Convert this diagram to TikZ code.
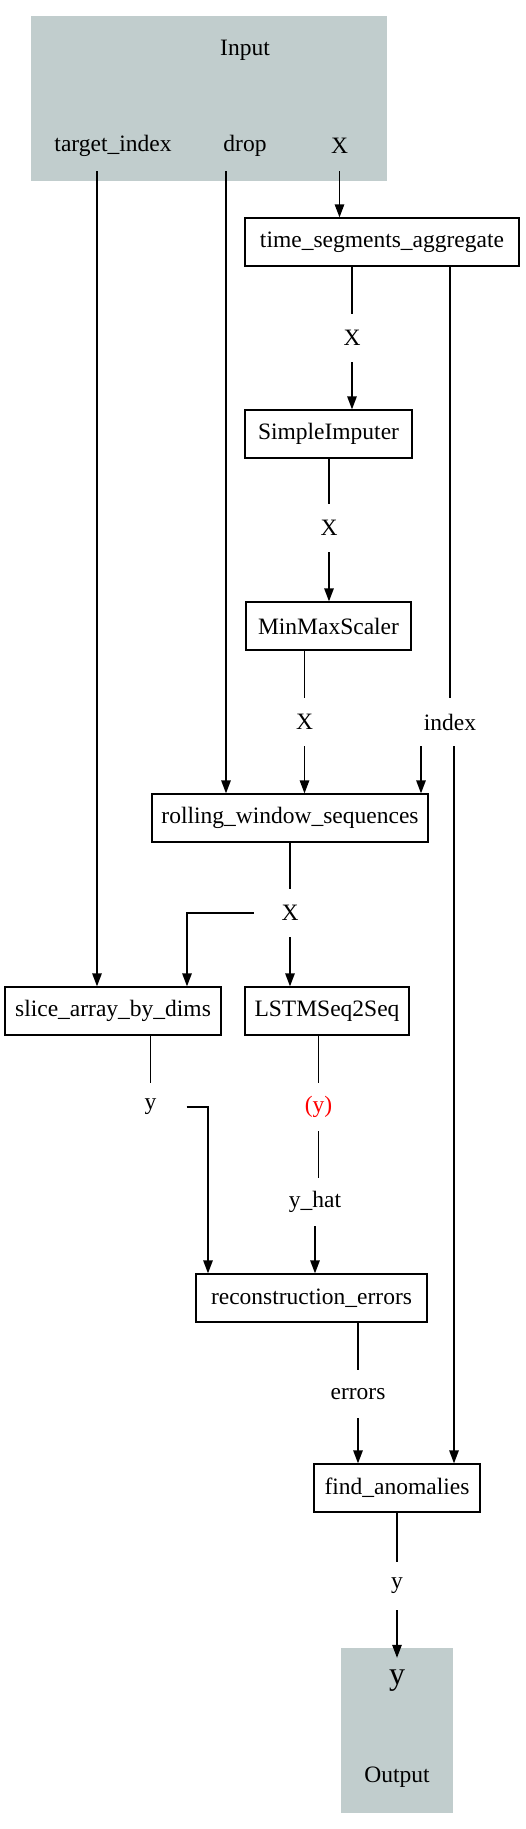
\documentclass[tikz,border=0pt]{standalone}
\usepackage{fontspec}
\setmainfont{Liberation Serif}
\usepackage{tikz}
\usetikzlibrary{arrows.meta}
\definecolor{azure3}{HTML}{C1CDCD}

\begin{document}
\begin{tikzpicture}[x=1pt, y=-1pt, font=\fontsize{23.5}{28}\selectfont,
  box/.style={draw, line width=1.3pt, inner xsep=0pt, inner ysep=0pt, minimum height=48pt},
  lbl/.style={inner sep=0pt, minimum width=72pt, minimum height=48pt},
  ln/.style={line width=1.3pt},
  arr/.style={line width=1.3pt, -{Triangle[length=13pt, width=9.5pt]}}]
\useasboundingbox (0, 0) rectangle (525, 1829);

\node[fill=azure3, inner sep=0pt, minimum width=356pt, minimum height=165pt] (input) at (209, 98.5) {};
\node (inputlbl) at (245, 50) {Input};
\node[lbl, minimum height=50pt] (tgtidx) at (113, 146) {target\_index};
\node[lbl, minimum height=50pt] (drop) at (245, 146) {drop};
\node[lbl, minimum height=50pt] (inX) at (339.5, 146) {X};

\node[box, minimum width=274pt] (tsa) at (382, 242) {time\_segments\_aggregate};
\node[box, minimum width=167pt] (imputer) at (328.5, 434) {SimpleImputer};
\node[box, minimum width=165pt] (scaler) at (328.5, 626) {MinMaxScaler};
\node[box, minimum width=276pt] (rws) at (290, 818) {rolling\_window\_sequences};
\node[box, minimum width=216pt] (slice) at (113, 1011) {slice\_array\_by\_dims};
\node[box, minimum width=164pt] (lstm) at (327, 1011) {LSTMSeq2Seq};
\node[box, minimum width=231pt] (recerr) at (311.5, 1298) {reconstruction\_errors};
\node[box, minimum width=166pt] (findanom) at (397, 1488) {find\_anomalies};

\node[lbl] (tsaX) at (352, 338) {X};
\node[lbl] (tsaIdx) at (450, 722) {index};
\node[lbl] (impX) at (329, 528) {X};
\node[lbl] (sclX) at (304.5, 722) {X};
\node[lbl] (rwsX) at (290, 913) {X};
\node[lbl] (sliceY) at (150.5, 1107) {y};
\node[lbl, text=red] (lstmY) at (318.5, 1107) {(y)};
\node[lbl] (yhat) at (315, 1202) {y\_hat};
\node[lbl] (errors) at (358, 1394) {errors};
\node[lbl] (anomY) at (397, 1586) {y};

\node[fill=azure3, inner sep=0pt, minimum width=112pt, minimum height=165pt] (output) at (397, 1730.5) {};
\node[lbl, minimum height=46pt, font=\fontsize{32}{37}\selectfont] (outY) at (397, 1681) {y};
\node (outlbl) at (397, 1777) {Output};

\draw[arr] ([xshift=-16pt]tgtidx.south) -- ([xshift=-16pt]tgtidx.south |- slice.north);
\draw[arr] ([xshift=-19pt]drop.south) -- ([xshift=-19pt]drop.south |- rws.north);
\draw[arr] (inX.south) -- (inX.south |- tsa.north);

\draw[ln] (tsaX.north |- tsa.south) -- (tsaX.north);
\draw[arr] (tsaX.south) -- (tsaX.south |- imputer.north);
\draw[ln] (tsaIdx.north |- tsa.south) -- (tsaIdx.north);
\draw[ln] (impX.north |- imputer.south) -- (impX.north);
\draw[arr] (impX.south) -- (impX.south |- scaler.north);
\draw[ln] (sclX.north |- scaler.south) -- (sclX.north);
\draw[arr] (sclX.south) -- (sclX.south |- rws.north);
\draw[arr] ([xshift=-29pt]tsaIdx.south) -- ([xshift=-29pt]tsaIdx.south |- rws.north);
\draw[arr] ([xshift=4pt]tsaIdx.south) -- ([xshift=4pt]tsaIdx.south |- findanom.north);

\draw[ln] (rwsX.north |- rws.south) -- (rwsX.north);
\draw[arr] (rwsX.west) -| ([xshift=74pt]slice.north);
\draw[arr] (rwsX.south) -- (rwsX.south |- lstm.north);
\draw[ln] (sliceY.north |- slice.south) -- (sliceY.north);
\draw[arr] (sliceY.east) -| ([xshift=-103.5pt]recerr.north);
\draw[ln] (lstmY.north |- lstm.south) -- (lstmY.north);
\draw[ln] (lstmY.south) -- (lstmY.south |- yhat.north);
\draw[arr] (yhat.south) -- (yhat.south |- recerr.north);

\draw[ln] (errors.north |- recerr.south) -- (errors.north);
\draw[arr] (errors.south) -- (errors.south |- findanom.north);
\draw[ln] (anomY.north |- findanom.south) -- (anomY.north);
\draw[arr] (anomY.south) -- (outY.north);

\end{tikzpicture}
\end{document}
